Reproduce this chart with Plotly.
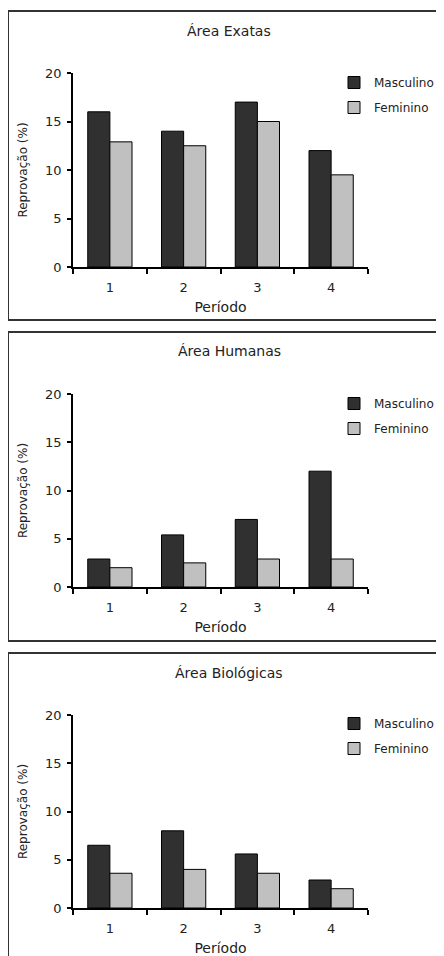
import plotly.graph_objects as go

# The page body adds an 8px margin; the visible figure covers page pixels 8..436 x 8..956
OFF = 8
W, H = 444 - 2 * OFF, 956 - OFF

periods = ["1", "2", "3", "4"]
areas = ["Área Exatas", "Área Humanas", "Área Biológicas"]
masculino = [
    [16, 14, 17, 12],
    [2.9, 5.4, 7, 12],
    [6.5, 8, 5.6, 2.9],
]
feminino = [
    [12.9, 12.5, 15, 9.5],
    [2, 2.5, 2.9, 2.9],
    [3.6, 4, 3.6, 2],
]
y_ticks = [0, 5, 10, 15, 20]

FONT = "DejaVu Sans"
DARK = "#303030"
LIGHT = "#c0c0c0"
TXT = "#222222"

def px(pix):
    return (pix - OFF) / W

def py(pix):
    return 1 - (pix - OFF) / H

# page-pixel layout per panel: (plot top, plot bottom, title y, box top, box bottom, first legend item y)
panels = [
    (73, 267, 31, 11, 320, 83),
    (394, 587, 351, 332, 641, 404),
    (715, 908, 673, 653, 1000, 724),
]
x_left, x_right = 73, 368

fig = go.Figure()
layout = dict(
    width=W, height=H,
    margin=dict(l=0, r=0, t=0, b=0, autoexpand=False),
    paper_bgcolor="white", plot_bgcolor="white",
    barmode="group", bargap=0.40, bargroupgap=0.0,
    font=dict(family=FONT, color=TXT, size=12),
    shapes=[], annotations=[],
)

for i, area in enumerate(areas):
    top, bot, ty, btop, bbot, ly = panels[i]
    sfx = "" if i == 0 else str(i + 1)
    xa, ya = "x" + sfx, "y" + sfx
    leg = "legend" + sfx
    fig.add_trace(go.Bar(
        x=periods, y=masculino[i], name="Masculino",
        marker=dict(color=DARK, line=dict(color="black", width=1)),
        xaxis=xa, yaxis=ya, legend=leg, legendgroup="m" + sfx,
    ))
    fig.add_trace(go.Bar(
        x=periods, y=feminino[i], name="Feminino",
        marker=dict(color=LIGHT, line=dict(color="black", width=1)),
        xaxis=xa, yaxis=ya, legend=leg, legendgroup="f" + sfx,
    ))
    layout["xaxis" + sfx] = dict(
        domain=[px(x_left), px(x_right)], anchor=ya,
        type="category", range=[-0.5, 3.5], tickson="boundaries",
        ticks="outside", ticklen=5, tickcolor="black", tickwidth=1.5,
        ticklabelstandoff=8,
        showline=True, linecolor="black", linewidth=1.5,
        showgrid=False, zeroline=False, automargin=False,
        tickfont=dict(family=FONT, size=13, color=TXT),
        title=dict(text="Período", font=dict(family=FONT, size=14, color=TXT), standoff=8),
        fixedrange=True,
    )
    layout["yaxis" + sfx] = dict(
        domain=[py(bot), py(top)], anchor=xa,
        range=[0, 20], tickvals=y_ticks,
        ticks="outside", ticklen=4, tickcolor="black", tickwidth=1.5,
        ticklabelstandoff=3,
        showline=True, linecolor="black", linewidth=1.5,
        showgrid=False, zeroline=False, automargin=False,
        tickfont=dict(family=FONT, size=13, color=TXT),
        title=dict(text="Reprovação (%)", font=dict(family=FONT, size=12, color=TXT), standoff=15),
        fixedrange=True,
    )
    layout[leg] = dict(
        x=px(334), xanchor="left", y=py(ly - 15), yanchor="top",
        bgcolor="rgba(0,0,0,0)", borderwidth=0,
        font=dict(family=FONT, size=12, color=TXT),
        tracegroupgap=6, itemclick=False, itemdoubleclick=False,
    )
    layout["shapes"].append(dict(
        type="rect", xref="paper", yref="paper",
        x0=px(8), x1=1.05, y0=py(bbot), y1=py(btop),
        line=dict(color="#333333", width=2), fillcolor="rgba(0,0,0,0)",
    ))
    layout["annotations"].append(dict(
        text=area, xref="paper", yref="paper",
        x=px(229), y=py(ty), xanchor="center", yanchor="middle",
        showarrow=False, font=dict(family=FONT, size=14, color=TXT),
    ))

fig.update_layout(**layout)
fig.write_html("out.html")
